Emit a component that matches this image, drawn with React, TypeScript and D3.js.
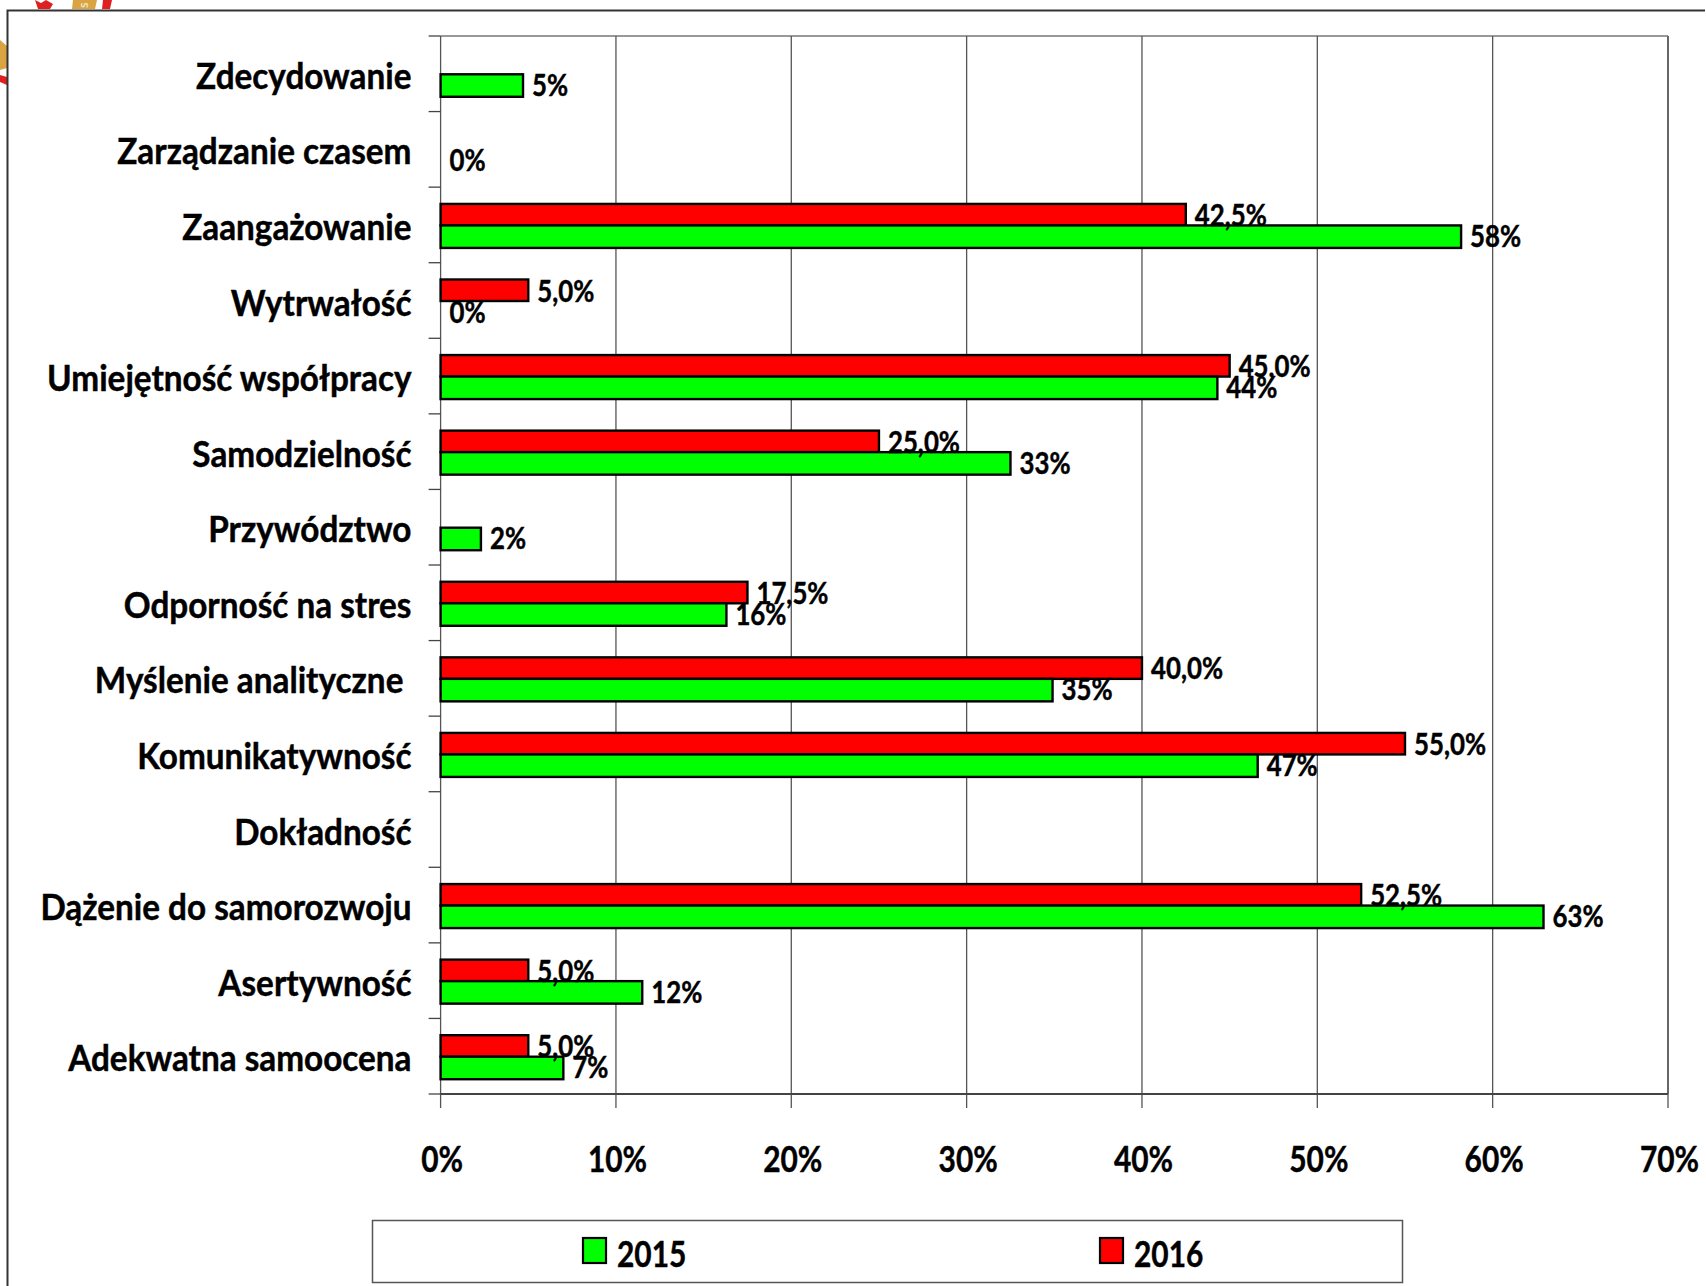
import React from "react";
import * as d3 from "d3";

const categories = ["Zdecydowanie","Zarządzanie czasem","Zaangażowanie","Wytrwałość","Umiejętność współpracy","Samodzielność","Przywództwo","Odporność na stres","Myślenie analityczne ","Komunikatywność","Dokładność","Dążenie do samorozwoju","Asertywność","Adekwatna samoocena"];
const values2015: (number|null)[] = [4.7,0,58.2,0,44.3,32.5,2.3,16.3,34.9,46.6,null,62.9,11.5,7];
const values2016: (number|null)[] = [null,null,42.5,5,45,25,null,17.5,40,55,null,52.5,5,5];
const xTicks = [0,10,20,30,40,50,60,70];
const FONT = "Lato, Carlito, sans-serif";
const GREEN = "#00ff00", RED = "#ff0000";

const x = d3.scaleLinear().domain([0,70]).range([440.6,1668]);
const y = d3.scaleBand().domain(categories).range([36,1094]);
const fmt0 = (v:number)=>`${Math.round(v)}%`;
const fmt1 = (v:number)=>`${v.toFixed(1).replace(".",",")}%`;

function T({x,y,sx,size,anchor,children}:{x:number,y:number,sx:number,size:number,anchor?:string,children:any}){
  return <text transform={`translate(${x},${y}) scale(${sx},1)`} fontSize={size} textAnchor={anchor||"start"}
    stroke="#000" strokeWidth={0.45} style={{whiteSpace:"pre"}}>{children}</text>;
}

export default function App(){
  const bw = y.bandwidth();
  const barH = 21.5;
  return (
    <svg width={1706} height={1286} style={{position:"absolute",left:0,top:0}} fontFamily={FONT} fontWeight={700} fill="#000">
      <rect x={0} y={0} width={1706} height={1286} fill="#fff"/>
      {/* cropped logo behind the chart frame */}
      <g stroke="none">
        <path d="M35 0L41 3L46 0L53 4L50 9H38Z" fill="#e02020"/>
        <path d="M73 0H97L95 9H72Z" fill="#d9a441"/>
        <text x={82} y={8} fontSize={10} fill="#f3e6c8" fontWeight={700} transform="rotate(-90 85 5)">S</text>
        <path d="M103 0H112L110 9H102Z" fill="#e02020"/>
        <path d="M0 40L7 46V68L0 70Z" fill="#d9a441"/>
        <path d="M0 75L7 77V85L0 82Z" fill="#e02020"/>
      </g>
      <path d="M7.5 1286V10.5H1705" fill="none" stroke="#333" strokeWidth={2}/>
      {/* plot frame */}
      <line x1={x(0)} x2={x(70)} y1={36} y2={36} stroke="#999" strokeWidth={2}/>
      <line x1={x(70)} x2={x(70)} y1={36} y2={1094} stroke="#888" strokeWidth={2}/>
      {xTicks.map(t=>(
        <line key={t} x1={x(t)} x2={x(t)} y1={36} y2={1108} stroke="#555" strokeWidth={1.3}/>
      ))}
      <line x1={x(0)} x2={x(70)} y1={1094} y2={1094} stroke="#444" strokeWidth={2}/>
      {categories.map((c)=>(
        <line key={c} x1={x(0)-12} x2={x(0)} y1={y(c)!} y2={y(c)!} stroke="#444" strokeWidth={1.3}/>
      ))}
      <line x1={x(0)-12} x2={x(0)} y1={1094} y2={1094} stroke="#444" strokeWidth={1.3}/>
      {/* bars */}
      {categories.map((c,i)=>{
        const cy = y(c)!+bw/2;
        const v5 = values2015[i], v6 = values2016[i];
        return <g key={c}>
          {v6!==null && v6>0 && <rect x={x(0)} y={cy-barH+0.5} width={x(v6)-x(0)} height={barH} fill={RED} stroke="#000" strokeWidth={2.4}/>}
          {v5!==null && v5>0 && <rect x={x(0)} y={cy+0.5} width={x(v5)-x(0)} height={barH+1} fill={GREEN} stroke="#000" strokeWidth={2.4}/>}
        </g>;
      })}
      {/* labels */}
      {categories.map((c,i)=>{
        const cy = y(c)!+bw/2;
        const v5 = values2015[i], v6 = values2016[i];
        return <g key={c}>
          {v6!==null && <T x={x(v6)+9} y={cy+1} sx={0.86} size={30}>{fmt1(v6)}</T>}
          {v5!==null && <T x={x(v5)+9} y={cy+22} sx={0.86} size={30}>{fmt0(v5)}</T>}
        </g>;
      })}
      {categories.map((c)=>(
        <T key={c} x={411.5} y={y(c)!+bw/2+15} sx={0.925} size={36} anchor="end">{c}</T>
      ))}
      {xTicks.map(t=>(
        <T key={t} x={x(t)+1.5} y={1172} sx={0.83} size={36} anchor="middle">{t}%</T>
      ))}
      {/* legend */}
      <rect x={372.5} y={1220.5} width={1030} height={62} fill="#fff" stroke="#555" strokeWidth={1.5}/>
      <rect x={583} y={1238} width={23} height={25} fill={GREEN} stroke="#000" strokeWidth={2.2}/>
      <T x={617} y={1267} sx={0.83} size={36}>2015</T>
      <rect x={1100} y={1238} width={23} height={25} fill={RED} stroke="#000" strokeWidth={2.2}/>
      <T x={1134} y={1267} sx={0.83} size={36}>2016</T>
    </svg>
  );
}
